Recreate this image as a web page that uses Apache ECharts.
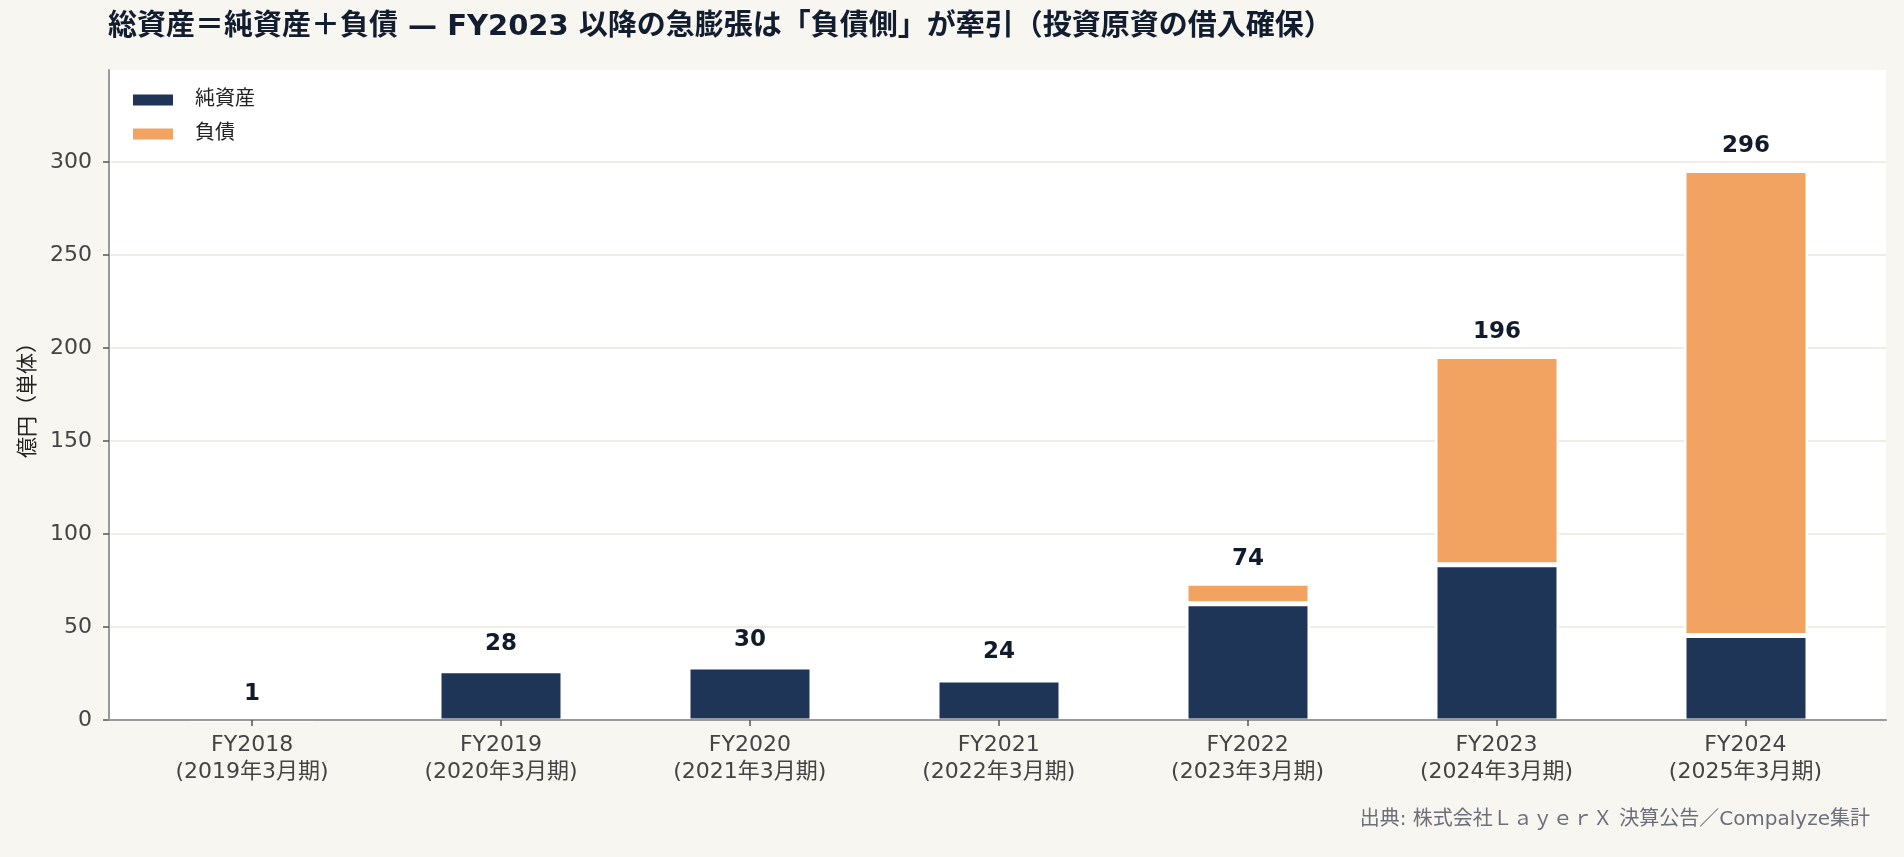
<!DOCTYPE html>
<html>
<head>
<meta charset="utf-8">
<script src="https://cdn.jsdelivr.net/npm/echarts@6/dist/echarts.min.js"></script>
<style>
  html, body { margin: 0; padding: 0; background: #f8f6f0; }
  #chart { width: 1904px; height: 857px; }
</style>
</head>
<body>
<div id="chart"></div>
<script>
//----------------------Data----------------------
let fiscal_years = ["FY2018", "FY2019", "FY2020", "FY2021", "FY2022", "FY2023", "FY2024"];
let fiscal_periods = ["(2019年3月期)", "(2020年3月期)", "(2021年3月期)", "(2022年3月期)", "(2023年3月期)", "(2024年3月期)", "(2025年3月期)"];
let net_assets = [0.6, 27, 29, 22, 63, 84, 46];
let liabilities = [0.4, 1, 1, 2, 11, 112, 250];
let total_labels = [1, 28, 30, 24, 74, 196, 296];
let y_ticks = [0, 50, 100, 150, 200, 250, 300];
let x_positions = [0, 1, 2, 3, 4, 5, 6];

let font_family = "'DejaVu Sans', 'Noto Sans CJK JP', sans-serif";
let color_net = "#1f3557";
let color_debt = "#f2a261";
let y_max = 349.5;

// Get dom in html
let stack_chart_dom = document.getElementById("chart");
let stack_chart = echarts.init(stack_chart_dom);

//----------------------Grid----------------------
// grid 0 : frame, axes, labels (axis runs a little past the outer bars)
// grid 1 : the bars themselves, one band per fiscal year
//          (1px lower so the white bar edge at the base hides under the axis line)
let grid_frame = {left: 109, right: 18, top: 70, bottom: 137, show: true, backgroundColor: "#ffffff", borderWidth: 0};
let grid_bars = {left: 127.5, right: 33.5, top: 71, bottom: 136};

//----------------------Axis----------------------
let frame_xAxis = {
    type: "value",
    gridIndex: 0,
    z: 5,
    min: -0.575,
    max: 6.565,
    splitLine: {show: false},
    axisLine: {show: true, onZero: false, lineStyle: {color: "#9a9a9a", width: 2}},
    axisTick: {show: true, length: 6, customValues: x_positions, lineStyle: {color: "#555", width: 1.5}},
    axisLabel: {
        customValues: x_positions,
        margin: 12,
        fontSize: 22,
        lineHeight: 27,
        color: "#444",
        fontFamily: font_family,
        formatter: function (value) {
            let i = Math.round(value);
            return fiscal_years[i] + "\n" + fiscal_periods[i];
        }
    }
};
let bars_xAxis = {
    type: "category",
    gridIndex: 1,
    data: fiscal_years,
    show: false
};
let frame_yAxis = {
    type: "value",
    gridIndex: 0,
    min: 0,
    max: y_max,
    name: "億円（単体）",
    nameLocation: "middle",
    nameGap: 68,
    nameTextStyle: {fontSize: 21, color: "#222", fontFamily: font_family},
    axisLine: {show: true, onZero: false, lineStyle: {color: "#9a9a9a", width: 2}},
    axisTick: {show: true, length: 6, customValues: y_ticks, lineStyle: {color: "#555", width: 1.5}},
    axisLabel: {customValues: y_ticks, margin: 17, fontSize: 22, color: "#444", fontFamily: font_family},
    splitLine: {show: true, lineStyle: {color: "#ede7dc", width: 1.5}}
};
let bars_yAxis = {
    type: "value",
    gridIndex: 1,
    min: 0,
    max: y_max,
    show: false,
    splitLine: {show: false}
};

//---------------------Series---------------------
let stack_series_list = [
    {
        name: "純資産",
        type: "bar",
        stack: "total",
        xAxisIndex: 1,
        yAxisIndex: 1,
        barWidth: 124,
        itemStyle: {color: color_net, borderColor: "#fff", borderWidth: 2.5},
        data: net_assets
    },
    {
        name: "負債",
        type: "bar",
        stack: "total",
        xAxisIndex: 1,
        yAxisIndex: 1,
        barWidth: 124,
        itemStyle: {color: color_debt, borderColor: "#fff", borderWidth: 2.5},
        label: {
            show: true,
            position: "top",
            distance: 13,
            fontSize: 23,
            fontWeight: "bold",
            color: "#111b2b",
            fontFamily: font_family,
            formatter: function (p) { return total_labels[p.dataIndex]; }
        },
        data: liabilities
    }
];

//---------------------Legend---------------------
let stack_legend = {
    data: ["純資産", "負債"],
    orient: "vertical",
    left: 131,
    top: 90,
    padding: 0,
    icon: "rect",
    itemWidth: 42,
    itemHeight: 13,
    itemGap: 14,
    textStyle: {fontSize: 20, color: "#222", fontFamily: font_family, padding: [0, 0, 0, 16]}
};

//------------------Generate Graph------------------
let chart_stack_option = {
    backgroundColor: "#f8f6f0",
    animation: false,
    title: [
        {
            text: "総資産＝純資産＋負債 — FY2023 以降の急膨張は「負債側」が牽引（投資原資の借入確保）",
            left: 108,
            top: 13,
            padding: 0,
            textStyle: {fontSize: 29, fontWeight: "bold", color: "#121d2f", fontFamily: font_family}
        },
        {
            text: "出典: 株式会社ＬａｙｅｒＸ 決算公告／Compalyze集計",
            right: 34,
            top: 810,
            padding: 0,
            textStyle: {fontSize: 20, fontWeight: "normal", color: "#6b6f7a", fontFamily: font_family}
        }
    ],
    grid: [grid_frame, grid_bars],
    xAxis: [frame_xAxis, bars_xAxis],
    yAxis: [frame_yAxis, bars_yAxis],
    legend: stack_legend,
    series: stack_series_list
};
stack_chart.setOption(chart_stack_option, true);
</script>
</body>
</html>
